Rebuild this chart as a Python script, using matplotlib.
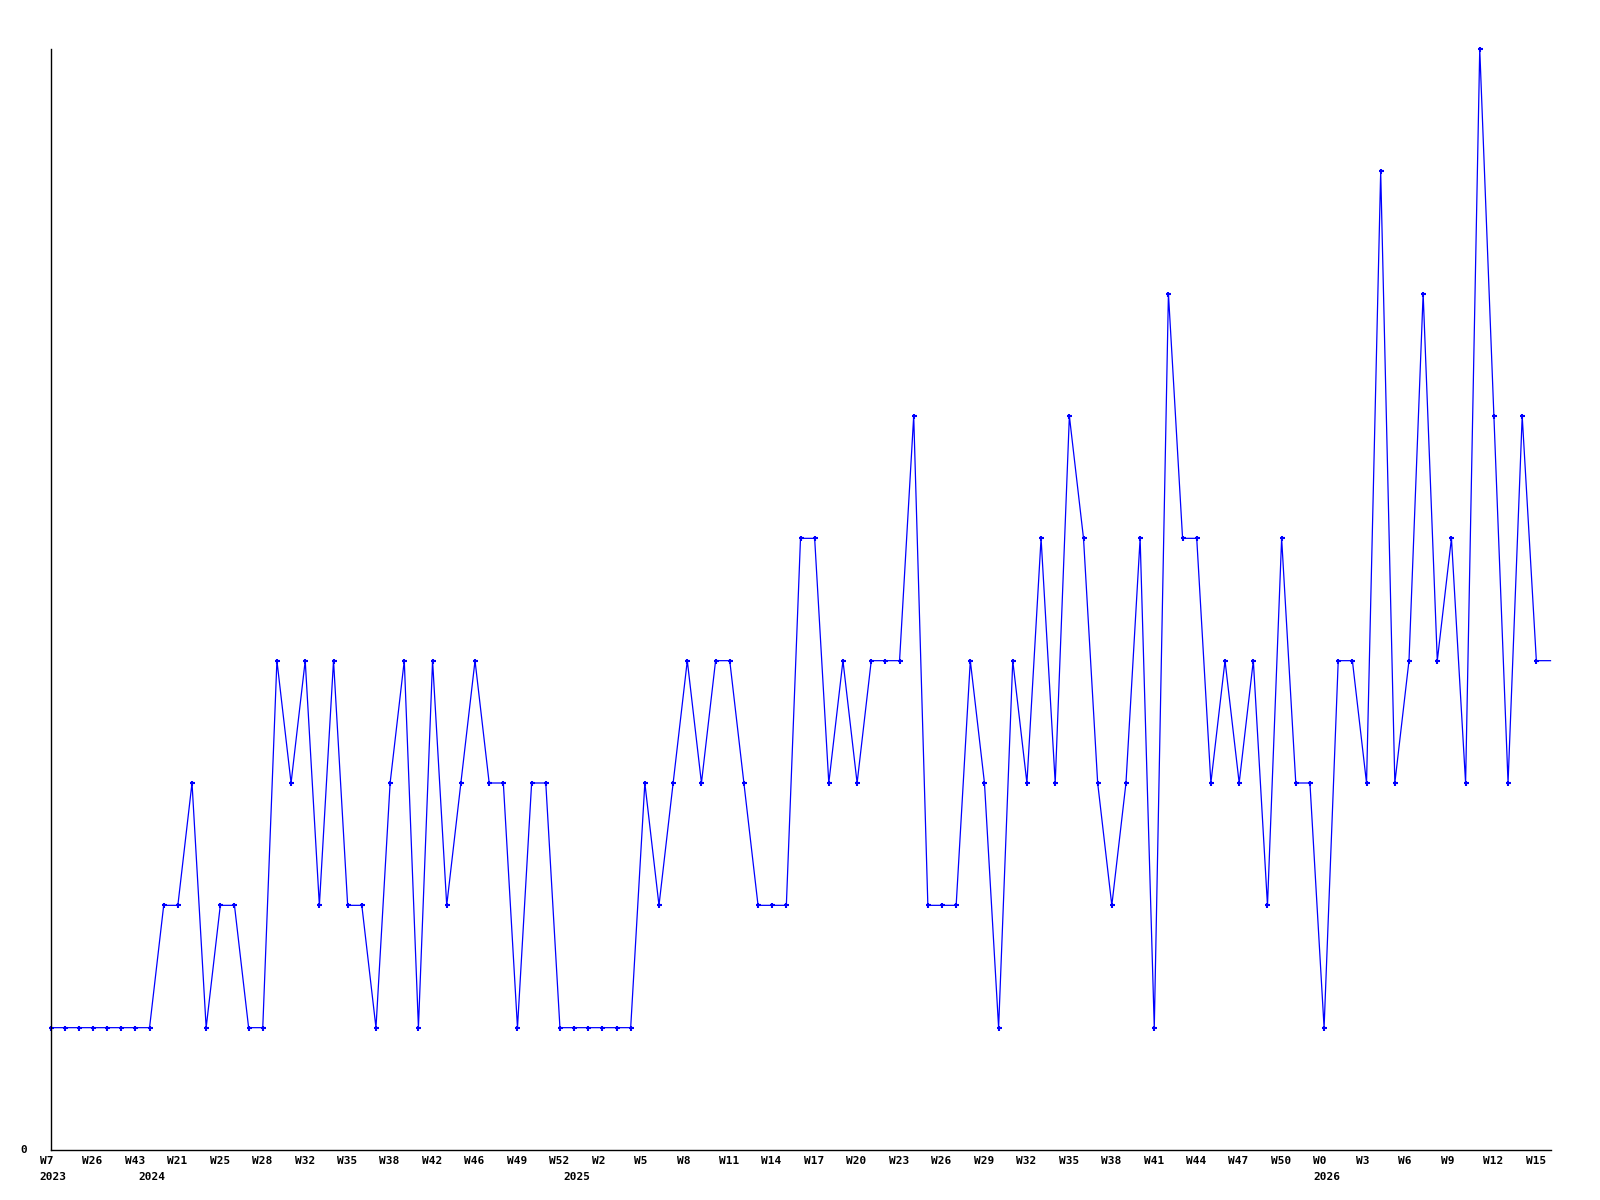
import matplotlib
matplotlib.use("Agg")
import matplotlib.pyplot as plt
from matplotlib import transforms

# weekly counts, one per point
counts = [1, 1, 1, 1, 1, 1, 1, 1, 2, 2,
          3, 1, 2, 2, 1, 1, 4, 3, 4, 2,
          4, 2, 2, 1, 3, 4, 1, 4, 2, 3,
          4, 3, 3, 1, 3, 3, 1, 1, 1, 1,
          1, 1, 3, 2, 3, 4, 3, 4, 4, 3,
          2, 2, 2, 5, 5, 3, 4, 3, 4, 4,
          4, 6, 2, 2, 2, 4, 3, 1, 4, 3,
          5, 3, 6, 5, 3, 2, 3, 5, 1, 7,
          5, 5, 3, 4, 3, 4, 2, 5, 3, 3,
          1, 4, 4, 3, 8, 3, 4, 7, 4, 5,
          3, 9, 6, 3, 6, 4, 4]

# label on every third point
week_labels = ["W7", "W26", "W43", "W21", "W25", "W28", "W32", "W35", "W38",
               "W42", "W46", "W49", "W52", "W2", "W5", "W8", "W11", "W14",
               "W17", "W20", "W23", "W26", "W29", "W32", "W35", "W38", "W41",
               "W44", "W47", "W50", "W0", "W3", "W6", "W9", "W12", "W15"]
label_step = 3

years = ["2023", "2024", "2025", "2026"]
year_start = [0, 7, 37, 90]

font = dict(family="DejaVu Sans Mono", fontweight="bold", fontsize=8.0)

fig = plt.figure(figsize=(16, 12), dpi=100)
ax = fig.add_axes([50.5 / 1600, 50 / 1200, 1500 / 1600, 1101 / 1200])

x = list(range(len(counts)))
ax.plot(x, counts, color="#0000ff", linewidth=0.9, marker="+",
        markersize=3.6, markeredgewidth=1.5, markevery=list(range(len(counts) - 1)),
        clip_on=False)

ax.set_xlim(0, len(counts) - 1)
ax.set_ylim(0, max(counts))
ax.set_xticks([])
ax.set_yticks([])
for s in ["top", "right"]:
    ax.spines[s].set_visible(False)
for s in ["left", "bottom"]:
    ax.spines[s].set_color("black")
    ax.spines[s].set_linewidth(1.0)

base = transforms.blended_transform_factory(ax.transData, ax.transAxes)
wk_tr = transforms.offset_copy(base, fig=fig, x=-10.7, y=-6.5, units="dots")
yr_tr = transforms.offset_copy(base, fig=fig, x=-10.7, y=-21.5, units="dots")

for i, lab in enumerate(week_labels):
    ax.text(i * label_step, 0, lab, transform=wk_tr, ha="left", va="top", **font)
for lab, i in zip(years, year_start):
    ax.text(i, 0, lab, transform=yr_tr, ha="left", va="top", **font)

fig.text(20 / 1600, 1 - 1150 / 1200, "0", ha="left", va="center", **font)

fig.savefig("out.png", dpi=100, facecolor="white")
